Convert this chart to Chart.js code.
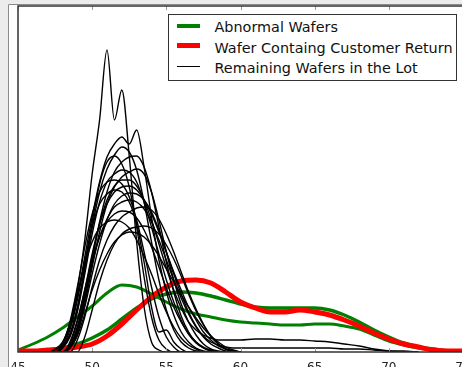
<!DOCTYPE html>
<html>
<head>
<meta charset="utf-8">
<script src="https://cdn.jsdelivr.net/npm/chart.js@4.4.0/dist/chart.umd.min.js"></script>
<style>
  html, body { margin: 0; padding: 0; overflow: hidden; background: #ececec; }
  #wrap { position: relative; width: 480px; height: 367px; }
  #legend { position: absolute; left: 168px; top: 14px; width: 289px; height: 67px; box-sizing: border-box;
            border: 1.5px solid #333; background: #fff; font-family: "DejaVu Sans", sans-serif; font-size: 14.4px; color: #111; }
  #legend .s { position: absolute; left: 7.5px; width: 23px; }
  #legend .t { position: absolute; left: 45.5px; height: 16px; line-height: 16px; white-space: nowrap; }
</style>
</head>
<body>
<div id="wrap">
  <canvas id="chart" width="480" height="367"></canvas>
  <div id="legend">
    <span class="s" style="top:8.5px;height:4px;background:#008000"></span>
    <span class="t" style="top:3.5px">Abnormal Wafers</span>
    <span class="s" style="top:28px;height:5px;background:#ff0000"></span>
    <span class="t" style="top:24.5px">Wafer Containg Customer Return</span>
    <span class="s" style="top:50.5px;height:1.3px;background:#000"></span>
    <span class="t" style="top:44.5px">Remaining Wafers in the Lot</span>
  </div>
</div>
<script>
// x grid for the colored curves
const colorX = [45, 46, 47, 48, 49, 50, 51, 52, 53, 54, 55, 56, 57, 58, 59, 60,
                61, 62, 63, 64, 65, 66, 67, 68, 69, 70, 71, 72, 73, 74, 75];

const customerReturn = [.001, .001, .002, .003, .005, .008, .016, .028, .042, .055, .065, .071, .072, .069, .060, .050,
                        .044, .040, .040, .042, .040, .037, .032, .026, .019, .013, .008, .005, .002, .001, .001];

const abnormal1 = [.002, .008, .015, .024, .035, .046, .059, .067, .065, .058, .050, .043, .038, .035, .032, .030,
                   .029, .028, .027, .027, .028, .028, .026, .023, .017, .011, .007, .004, .002, .001, 0];

const abnormal2 = [0, .001, .002, .004, .008, .014, .022, .033, .044, .053, .058, .060, .059, .056, .052, .048,
                   .045, .044, .044, .044, .044, .042, .037, .030, .022, .015, .009, .005, .003, .001, 0];

// x grid for the remaining wafers (46 .. 60, step 0.5) and for their long tails
const blackX = [46, 46.5, 47, 47.5, 48, 48.5, 49, 49.5, 50, 50.5, 51, 51.5, 52, 52.5, 53, 53.5,
                54, 54.5, 55, 55.5, 56, 56.5, 57, 57.5, 58, 58.5, 59, 59.5, 60];
const tailX = [61, 62, 63, 64, 65, 66, 67, 68, 69, 70, 71, 72];

const w1  = [0, 0, 0, .003, .010, .028, .062, .112, .178, .232, .302, .232, .262, .196, .110, .045, .010, .002, 0, 0, 0, 0, 0, 0, 0, 0, 0, 0, 0];
const w2  = [0, 0, 0, .002, .008, .025, .055, .095, .135, .170, .195, .208, .215, .208, .222, .185, .135, .092, .060, .037, .020, .010, .004, .001, 0, 0, 0, 0, 0];
const w3  = [0, 0, 0, 0, .004, .015, .040, .078, .118, .150, .170, .178, .182, .180, .170, .150, .125, .098, .072, .050, .032, .018, .009, .004, .001, 0, 0, 0, 0];
const w4  = [0, 0, 0, 0, 0, .005, .020, .048, .085, .120, .148, .165, .175, .180, .183, .178, .160, .132, .100, .072, .048, .030, .017, .008, .003, .001, 0, 0, 0];
const w5  = [0, 0, 0, 0, .006, .022, .052, .090, .125, .148, .158, .162, .160, .150, .128, .090, .045, .020, .022, .010, .003, 0, 0, 0, 0, 0, 0, 0, 0];
const w6  = [0, 0, 0, 0, 0, .008, .030, .062, .098, .128, .148, .160, .165, .166, .162, .152, .138, .120, .100, .080, .062, .045, .032, .020, .012, .006, .003, .001, 0];
const w7  = [0, 0, 0, 0, 0, .006, .025, .055, .088, .115, .133, .145, .150, .152, .150, .143, .130, .112, .092, .072, .054, .038, .025, .015, .008, .004, .001, 0, 0];
const w8  = [0, 0, 0, 0, 0, .010, .032, .062, .092, .115, .130, .138, .141, .140, .134, .122, .105, .085, .064, .045, .030, .018, .010, .005, .002, 0, 0, 0, 0];
const w9  = [0, 0, 0, 0, 0, 0, .012, .035, .065, .092, .112, .126, .135, .140, .144, .145, .142, .133, .118, .100, .080, .060, .043, .028, .016, .008, .003, .001, 0];
const w10 = [0, 0, 0, 0, .008, .028, .058, .088, .110, .124, .130, .132, .130, .124, .112, .096, .078, .058, .040, .025, .014, .007, .003, 0, 0, 0, 0, 0, 0];
const w11 = [0, 0, 0, 0, .005, .018, .045, .085, .130, .168, .190, .196, .188, .165, .125, .075, .035, .012, .003, 0, 0, 0, 0, 0, 0, 0, 0, 0, 0];
const w12 = [0, 0, 0, 0, 0, .006, .024, .058, .095, .128, .152, .166, .172, .172, .166, .152, .132, .108, .084, .062, .044, .030, .022, .017, .014, .012, .012, .012, .012];
const w13 = [0, 0, 0, 0, 0, .004, .018, .045, .078, .108, .132, .148, .156, .159, .158, .152, .140, .122, .100, .078, .058, .040, .026, .016, .010, .007, .005, .004, .004];
const w14 = [0, 0, 0, 0, .008, .030, .065, .105, .138, .160, .170, .172, .168, .155, .132, .100, .065, .035, .015, .005, 0, 0, 0, 0, 0, 0, 0, 0, 0];
const w15 = [0, 0, 0, 0, 0, 0, 0, .015, .042, .070, .092, .108, .118, .123, .125, .126, .124, .118, .107, .093, .076, .058, .041, .027, .016, .008, .003, .001, 0];
const w16 = [0, 0, 0, 0, .004, .016, .042, .082, .125, .160, .183, .197, .205, .200, .182, .150, .110, .072, .042, .022, .010, .004, .001, 0, 0, 0, 0, 0, 0];
const w17 = [0, 0, 0, 0, 0, .006, .022, .052, .092, .130, .160, .180, .190, .195, .196, .185, .160, .125, .090, .060, .036, .020, .010, .004, .001, 0, 0, 0, 0];
const w18 = [0, 0, 0, 0, 0, .004, .016, .038, .062, .082, .098, .110, .117, .120, .119, .115, .107, .096, .083, .070, .057, .045, .034, .024, .016, .010, .005, .002, 0];

const tail12 = [.013, .013, .012, .012, .011, .010, .008, .006, .003, .001, 0, 0];
const tail13 = [.004, .004, .004, .004, .004, .004, .003, .003, .002, .001, .001, 0];

const remaining = [w1, w2, w3, w4, w5, w6, w7, w8, w9, w10, w11, w12, w13, w14, w15, w16, w17, w18];
const tails = { 11: tail12, 12: tail13 };

const xTicks = [45, 50, 55, 60, 65, 70, 75];

function pts(xs, ys) {
  return xs.map((x, i) => ({ x: x, y: ys[i] }));
}

const datasets = [];
remaining.forEach((w, i) => {
  let d = pts(blackX, w);
  if (tails[i]) d = d.concat(pts(tailX, tails[i]));
  datasets.push({ data: d, borderColor: '#000', borderWidth: 1.4, order: 0 });
});
datasets.push({ data: pts(colorX, customerReturn), borderColor: '#ff0000', borderWidth: 5, order: 1 });
datasets.push({ data: pts(colorX, abnormal1), borderColor: '#008000', borderWidth: 3, order: 2 });
datasets.push({ data: pts(colorX, abnormal2), borderColor: '#008000', borderWidth: 3.5, order: 2 });

const frame = {
  id: 'frame',
  beforeDraw(chart) {
    const c = chart.ctx;
    c.save();
    c.fillStyle = '#ececec';
    c.fillRect(0, 0, chart.width, chart.height);
    c.fillStyle = '#fff';
    c.fillRect(8, 4, chart.width, chart.height);
    c.strokeStyle = '#8a8a8a';
    c.lineWidth = 1;
    c.beginPath();
    c.moveTo(8.5, chart.height); c.lineTo(8.5, 4.5); c.lineTo(chart.width, 4.5);
    c.stroke();
    c.restore();
  },
  afterDatasetsDraw(chart) {
    const c = chart.ctx, a = chart.chartArea, sx = chart.scales.x;
    c.save();
    c.strokeStyle = '#999';
    c.lineWidth = 1;
    sx.ticks.forEach(t => {
      const px = Math.round(sx.getPixelForValue(t.value)) + 0.5;
      c.beginPath();
      c.moveTo(px, a.bottom); c.lineTo(px, a.bottom - 4);
      c.moveTo(px, a.top); c.lineTo(px, a.top + 4);
      c.stroke();
    });
    c.strokeStyle = '#333';
    c.lineWidth = 1.5;
    c.strokeRect(a.left, a.top, a.right - a.left, a.bottom - a.top);
    c.restore();
  }
};

new Chart(document.getElementById('chart'), {
  type: 'line',
  data: { datasets: datasets },
  options: {
    responsive: false,
    animation: false,
    devicePixelRatio: 1,
    layout: { padding: { left: 18, top: 6, right: 17, bottom: 0 } },
    elements: {
      point: { radius: 0 },
      line: { cubicInterpolationMode: 'monotone', fill: false }
    },
    plugins: { legend: { display: false }, tooltip: { enabled: false } },
    scales: {
      x: {
        type: 'linear', min: 45, max: 75,
        grid: { display: false },
        border: { display: false },
        afterBuildTicks: s => { s.ticks = xTicks.map(v => ({ value: v })); },
        afterFit: s => { s.height = 15; },
        ticks: { padding: 2, color: '#222', font: { family: 'DejaVu Sans', size: 12, lineHeight: 1 } }
      },
      y: { min: 0, max: 0.346, display: false }
    }
  },
  plugins: [frame]
});
</script>
</body>
</html>
